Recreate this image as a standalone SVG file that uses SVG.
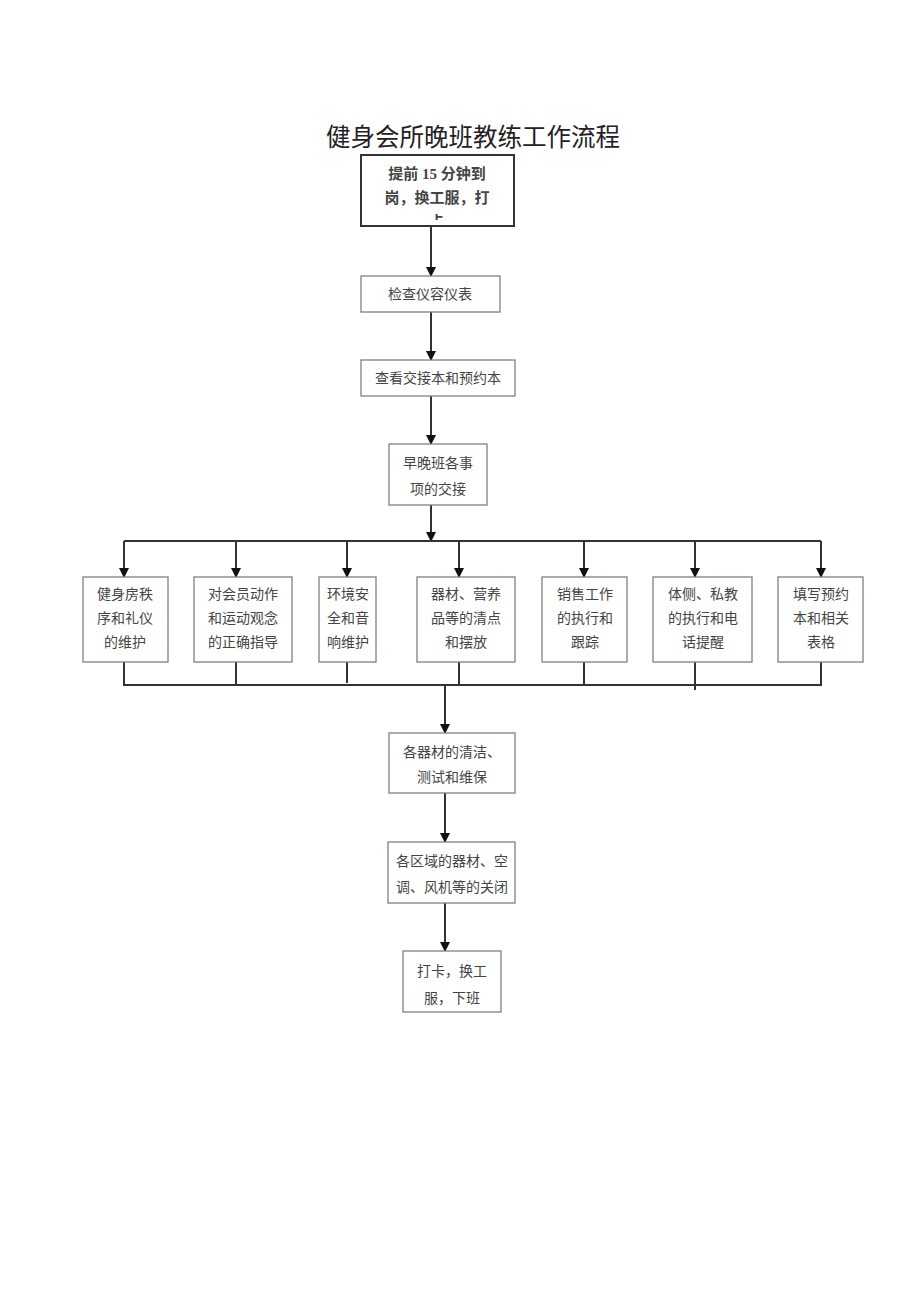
<svg xmlns="http://www.w3.org/2000/svg" width="920" height="1301" viewBox="0 0 920 1301">
<defs>
<style>
.bx{fill:#fff;stroke:#808080;stroke-width:1.3}
.b1{fill:#fff;stroke:#333;stroke-width:2}
.t{font-family:"Liberation Serif","Noto Sans CJK SC",serif;font-size:14px;fill:#444;text-anchor:middle}
.t1{font-family:"Liberation Serif","Noto Sans CJK SC",serif;font-size:15px;fill:#444;text-anchor:middle;font-weight:bold}
.ttl{font-family:"Liberation Serif","Noto Sans CJK SC",serif;font-size:24.5px;fill:#222;text-anchor:middle}
.ln{fill:none;stroke:#333;stroke-width:2}
</style>
<marker id="ah" markerWidth="10" markerHeight="10" refX="9" refY="5" orient="auto" markerUnits="userSpaceOnUse">
<path d="M0,0 L10,5 L0,10 Z" fill="#111"/>
</marker>
<clipPath id="c1"><rect x="362" y="156" width="151" height="64"/></clipPath>
</defs>
<rect width="920" height="1301" fill="#fff"/>
<text class="ttl" x="473" y="146">健身会所晚班教练工作流程</text>

<g id="connectors">
<path class="ln" d="M431,226 V276" marker-end="url(#ah)"/>
<path class="ln" d="M431,312 V360" marker-end="url(#ah)"/>
<path class="ln" d="M431,396 V444" marker-end="url(#ah)"/>
<path class="ln" d="M431,505 V541" marker-end="url(#ah)"/>
<path class="ln" d="M124,541 H821"/>
<path class="ln" d="M124,541 V577" marker-end="url(#ah)"/>
<path class="ln" d="M236,541 V577" marker-end="url(#ah)"/>
<path class="ln" d="M347,541 V577" marker-end="url(#ah)"/>
<path class="ln" d="M459,541 V577" marker-end="url(#ah)"/>
<path class="ln" d="M584,541 V577" marker-end="url(#ah)"/>
<path class="ln" d="M695,541 V577" marker-end="url(#ah)"/>
<path class="ln" d="M821,541 V577" marker-end="url(#ah)"/>
<path class="ln" d="M124,662 V685 H821 V662"/>
<path class="ln" d="M236,662 V685"/>
<path class="ln" d="M347,662 V683"/>
<path class="ln" d="M459,662 V685"/>
<path class="ln" d="M584,662 V685"/>
<path class="ln" d="M695,662 V690"/>
<path class="ln" d="M445,685 V733" marker-end="url(#ah)"/>
<path class="ln" d="M445,793 V842" marker-end="url(#ah)"/>
<path class="ln" d="M445,903 V951" marker-end="url(#ah)"/>
</g>

<g id="n1">
<rect class="b1" x="361" y="155" width="153" height="71"/>
<g clip-path="url(#c1)">
<text class="t1" x="437" y="179">提前 15 分钟到</text>
<text class="t1" x="437" y="203">岗，换工服，打</text>
<text class="t1" x="437" y="227">卡</text>
</g>
</g>
<g id="n2">
<rect class="bx" x="361" y="276" width="139" height="36"/>
<text class="t" x="430" y="299">检查仪容仪表</text>
</g>
<g id="n3">
<rect class="bx" x="361" y="360" width="154" height="36"/>
<text class="t" x="438" y="383">查看交接本和预约本</text>
</g>
<g id="n4">
<rect class="bx" x="389" y="444" width="98" height="61"/>
<text class="t" x="438" y="468">早晚班各事</text>
<text class="t" x="438" y="494">项的交接</text>
</g>

<g id="n5">
<rect class="bx" x="83" y="577" width="85" height="85"/>
<text class="t" x="125" y="599">健身房秩</text>
<text class="t" x="125" y="623">序和礼仪</text>
<text class="t" x="125" y="647">的维护</text>
</g>
<g id="n6">
<rect class="bx" x="194" y="577" width="98" height="85"/>
<text class="t" x="243" y="599">对会员动作</text>
<text class="t" x="243" y="623">和运动观念</text>
<text class="t" x="243" y="647">的正确指导</text>
</g>
<g id="n7">
<rect class="bx" x="319" y="577" width="57" height="85"/>
<text class="t" x="348" y="599">环境安</text>
<text class="t" x="348" y="623">全和音</text>
<text class="t" x="348" y="647">响维护</text>
</g>
<g id="n8">
<rect class="bx" x="417" y="577" width="98" height="85"/>
<text class="t" x="466" y="599">器材、营养</text>
<text class="t" x="466" y="623">品等的清点</text>
<text class="t" x="466" y="647">和摆放</text>
</g>
<g id="n9">
<rect class="bx" x="542" y="577" width="85" height="85"/>
<text class="t" x="585" y="599">销售工作</text>
<text class="t" x="585" y="623">的执行和</text>
<text class="t" x="585" y="647">跟踪</text>
</g>
<g id="n10">
<rect class="bx" x="653" y="577" width="99" height="85"/>
<text class="t" x="703" y="599">体侧、私教</text>
<text class="t" x="703" y="623">的执行和电</text>
<text class="t" x="703" y="647">话提醒</text>
</g>
<g id="n11">
<rect class="bx" x="778" y="577" width="85" height="85"/>
<text class="t" x="821" y="599">填写预约</text>
<text class="t" x="821" y="623">本和相关</text>
<text class="t" x="821" y="647">表格</text>
</g>

<g id="n12">
<rect class="bx" x="389" y="733" width="126" height="60"/>
<text class="t" x="452" y="757">各器材的清洁、</text>
<text class="t" x="452" y="782">测试和维保</text>
</g>
<g id="n13">
<rect class="bx" x="388" y="842" width="127" height="61"/>
<text class="t" x="452" y="866">各区域的器材、空</text>
<text class="t" x="452" y="892">调、风机等的关闭</text>
</g>
<g id="n14">
<rect class="bx" x="403" y="951" width="98" height="61"/>
<text class="t" x="452" y="976">打卡，换工</text>
<text class="t" x="452" y="1003">服，下班</text>
</g>
</svg>
